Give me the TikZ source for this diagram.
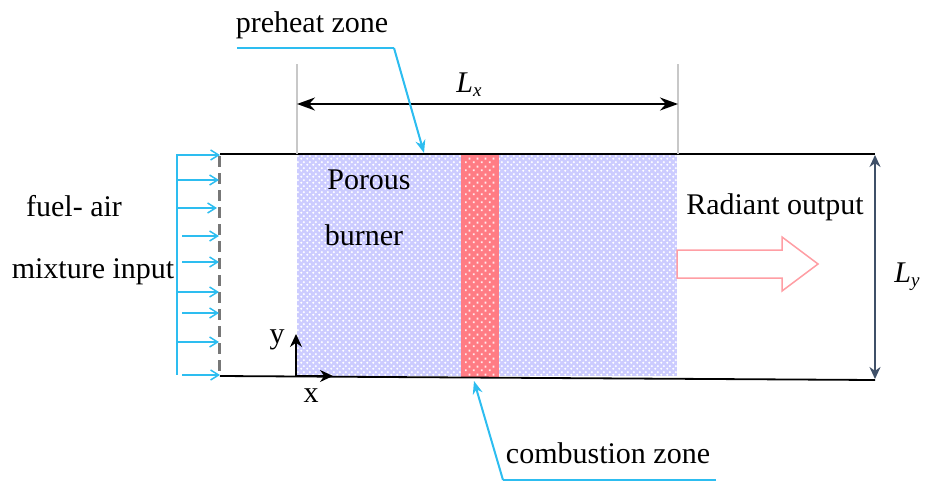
\documentclass[tikz,border=0pt]{standalone}
\usepackage{fontspec}
\setmainfont{Liberation Serif}
\usetikzlibrary{arrows.meta,patterns}
\definecolor{cy}{HTML}{2DBDF0}
\definecolor{wallgray}{HTML}{777777}
\definecolor{guide}{HTML}{C8C8C8}
\definecolor{porous}{HTML}{CCCCFF}
\definecolor{comb}{HTML}{FF7C84}
\definecolor{outarrow}{HTML}{FF9EA4}
\definecolor{dimblue}{HTML}{3F5068}
\pgfdeclarepatternformonly{porousdots}{\pgfqpoint{0pt}{0pt}}{\pgfqpoint{6pt}{6pt}}{\pgfqpoint{6pt}{6pt}}{%
  \pgfpathcircle{\pgfqpoint{1.5pt}{1.5pt}}{1.35pt}
  \pgfpathcircle{\pgfqpoint{4.5pt}{4.5pt}}{1.35pt}
  \pgfusepath{fill}}
\pgfdeclarepatternformonly{combdots}{\pgfqpoint{0pt}{0pt}}{\pgfqpoint{8pt}{8pt}}{\pgfqpoint{8pt}{8pt}}{%
  \pgfpathrectangle{\pgfqpoint{1pt}{1pt}}{\pgfqpoint{2pt}{2pt}}
  \pgfpathrectangle{\pgfqpoint{5pt}{5pt}}{\pgfqpoint{2pt}{2pt}}
  \pgfusepath{fill}}
\newcommand{\SubL}[1]{\textit{L}\raisebox{-4pt}{\fontsize{19}{20}\selectfont\textit{#1}}}
\tikzset{
  lbl/.style={font=\fontsize{30}{34}\selectfont,inner sep=0pt,text=black},
  inflow/.style={cy,line width=1.5pt,-{Straight Barb[length=8pt,width=10pt,line width=1.5pt]}},
  leader/.style={cy,line width=2pt},
  leadertip/.style={cy,line width=2pt,-{Stealth[length=13pt,width=10pt]}},
  dimline/.style={black,line width=2.2pt,{Stealth[length=18pt,width=13pt]}-{Stealth[length=18pt,width=13pt]}},
  wall/.style={black,line width=1.8pt},
  axisarrow/.style={black,line width=1.6pt,-{Stealth[length=13pt,width=12pt]}}
}
\begin{document}
\begin{tikzpicture}[x=1pt,y=-1pt]
\useasboundingbox (0,0) rectangle (926,483);
% porous fills
\fill[porous] (297,154) rectangle (677,376);
\fill[pattern=porousdots,pattern color=white] (297,154) rectangle (677,376);
\fill[comb] (461,154) rectangle (499,378);
\fill[pattern=combdots,pattern color=white!85!comb] (465,156) rectangle (496,376);
% coordinates
\coordinate (wallTop) at (220,154);
\coordinate (wallBot) at (220,376);
\coordinate (topR) at (875,154);
\coordinate (botR) at (875,380);
% walls
\draw[wall] (wallTop) -- (topR);
\draw[wall] (wallBot) -- (botR);
\draw[wallgray,line width=3pt,dash pattern=on 11pt off 6pt] (219,156) -- (219,374);
% guides
\coordinate (g1t) at (297,64); \coordinate (g1b) at (297,154);
\coordinate (g2t) at (678,64); \coordinate (g2b) at (678,154);
\draw[guide,line width=1.5pt] (g1t) -- (g1b);
\draw[guide,line width=1.5pt] (g2t) -- (g2b);
% Lx
\coordinate (lxa) at (297,104); \coordinate (lxb) at (678,104);
\draw[dimline] (lxa) -- (lxb);
\node[lbl] (lxl) at (469,85) {\SubL{x}};
% Ly
\coordinate (lya) at (875,155); \coordinate (lyb) at (875,379);
\draw[dimline,draw=dimblue,{Stealth[length=12pt,width=11pt]}-{Stealth[length=12pt,width=11pt]}] (lya) -- (lyb);
\node[lbl] (lyl) at (907,277) {\SubL{y}};
% inflow
\coordinate (inT) at (177,154); \coordinate (inB) at (177,375);
\draw[cy,line width=2.2pt] (inT) -- (inB);
\foreach \n/\xa/\ya/\xb in {a/178/155/220,b/178/180/219,c/178/208/217,d/182/236/219,e/182/262/219,f/178/292/219,g/182/313/219,h/178/342/219,i/182/375/220}{
  \coordinate (s\n) at (\xa,\ya);
  \coordinate (e\n) at (\xb,\ya);
  \draw[inflow] (s\n) -- (e\n);
}
% axes
\coordinate (o) at (296,376);
\coordinate (ytip) at (296,334);
\coordinate (xtip) at (333,376);
\draw[axisarrow] (o) -- (ytip);
\draw[axisarrow] (o) -- (xtip);
\node[lbl] (ylab) at (277,340) {y};
\node[lbl] (xlab) at (311,396) {x};
% radiant arrow
\draw[outarrow,line width=1.5pt,fill=white] (677,250) -- (782,250) -- (782,237) -- (818,264) -- (782,291) -- (782,278) -- (677,278) -- cycle;
% labels
\node[lbl] (preheat) at (312,25) {preheat zone};
\node[lbl] (porous1) at (369,180) {Porous};
\node[lbl] (porous2) at (364,235) {burner};
\node[lbl] (fuel) at (74,206) {fuel- air};
\node[lbl] (mix) at (93,272) {mixture input};
\node[lbl] (rad) at (775,207) {Radiant output};
\node[lbl] (comblab) at (608,453) {combustion zone};
% leaders
\coordinate (p0) at (237,48); \coordinate (p1) at (394,48); \coordinate (p2) at (424,153);
\draw[leader] (p0) -- (p1);
\draw[leadertip] (p1) -- (p2);
\coordinate (c0) at (716,480); \coordinate (c1) at (503,480); \coordinate (c2) at (474,381);
\draw[leader] (c0) -- (c1);
\draw[leadertip] (c1) -- (c2);
\end{tikzpicture}
\end{document}
